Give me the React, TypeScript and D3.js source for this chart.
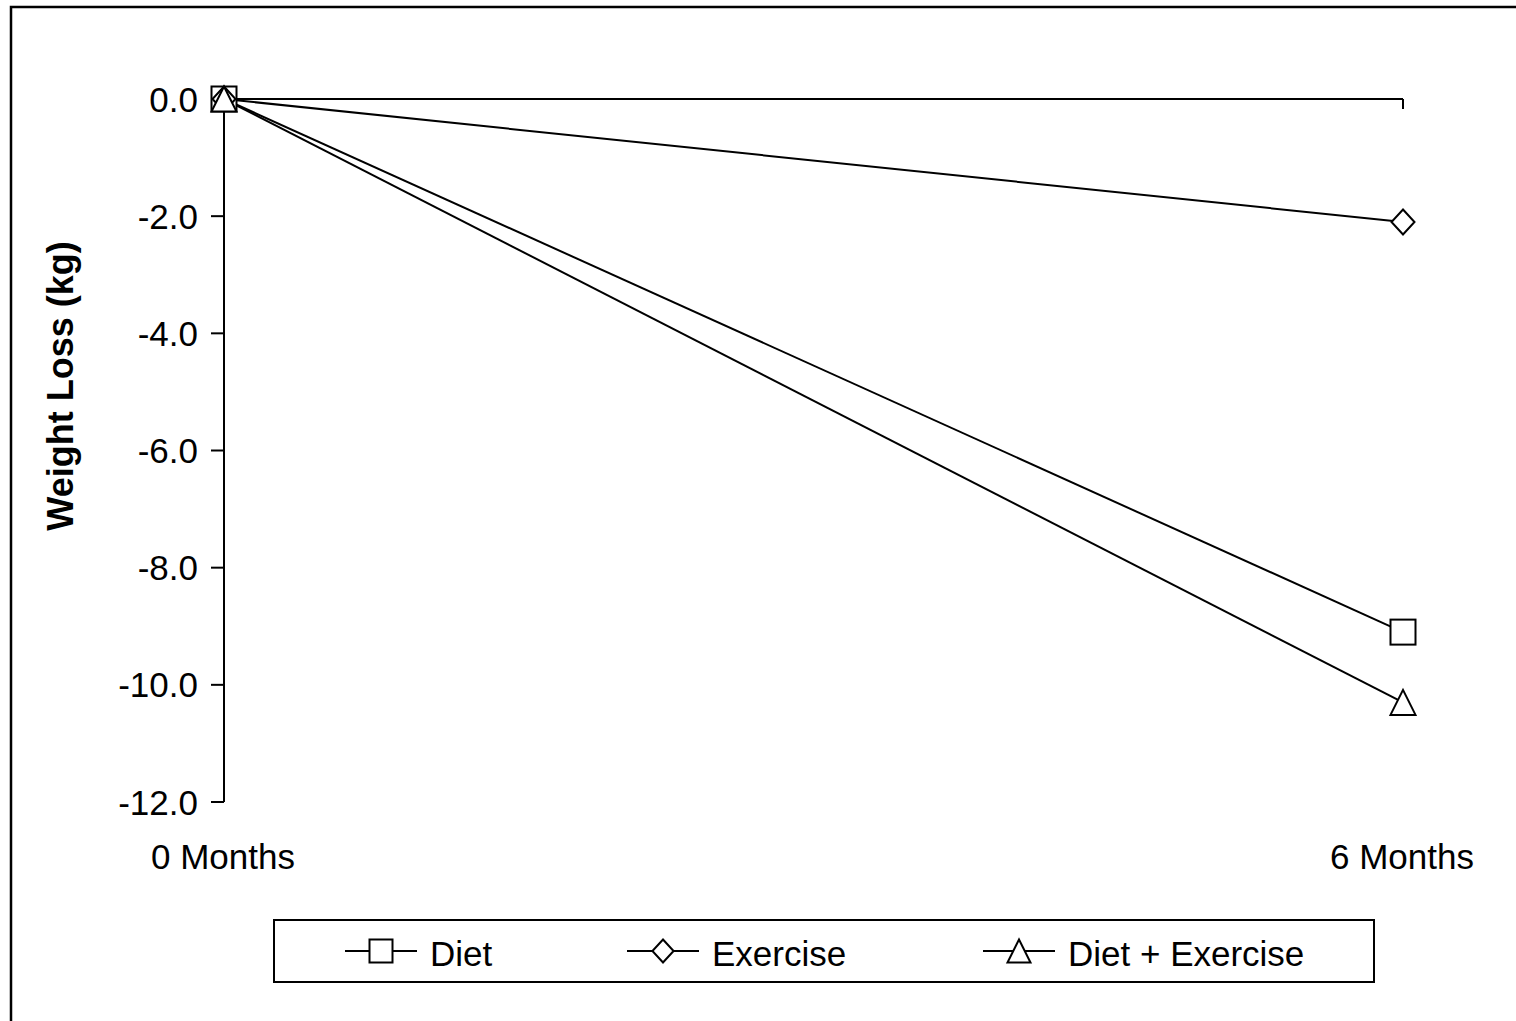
import React from "react";
import * as d3 from "d3";

const categories = ["0 Months", "6 Months"];
const seriesNames = ["Diet", "Exercise", "Diet + Exercise"];
const dietValues = [0, -9.1];
const exerciseValues = [0, -2.1];
const dietExerciseValues = [0, -10.3];
const yTicks = [0, -2, -4, -6, -8, -10, -12];
const markerTypes = ["square", "diamond", "triangle"];

const W = 1516;
const H = 1021;
const FONT = "'Liberation Sans', Arial, sans-serif";

function Marker({ type, x, y, s }: { type: string; x: number; y: number; s: number }) {
  const h = s / 2;
  if (type === "square") {
    return <rect x={x - h} y={y - h} width={s} height={s} fill="#fff" stroke="#000" strokeWidth={2} />;
  }
  if (type === "diamond") {
    const hw = h * 0.92;
    return (
      <path
        d={`M${x},${y - h} L${x + hw},${y} L${x},${y + h} L${x - hw},${y} Z`}
        fill="#fff"
        stroke="#000"
        strokeWidth={2}
      />
    );
  }
  return (
    <path
      d={`M${x},${y - h} L${x + h},${y + h} L${x - h},${y + h} Z`}
      fill="#fff"
      stroke="#000"
      strokeWidth={2}
    />
  );
}

export default function App() {
  const x = d3.scalePoint<string>().domain(categories).range([224, 1403]);
  const y = d3.scaleLinear().domain([-12, 0]).range([802, 99]);
  const allSeries = [dietValues, exerciseValues, dietExerciseValues];
  const line = d3
    .line<number>()
    .x((_, i) => x(categories[i]) as number)
    .y((d) => y(d));

  const legendStarts = [345, 627, 983];

  return (
    <svg
      width={W}
      height={H}
      style={{ position: "absolute", left: 0, top: 0, background: "#fff" }}
      fontFamily={FONT}
    >
      <rect x={0} y={0} width={W} height={H} fill="#fff" />
      {/* outer chart border */}
      <path d={`M11,${H} L11,7 L${W} 7`} fill="none" stroke="#000" strokeWidth={2.5} />

      {/* y axis */}
      <line x1={224} x2={224} y1={y(0)} y2={y(-12)} stroke="#000" strokeWidth={2} />
      {yTicks.map((t) => (
        <g key={t}>
          <line x1={211} x2={224} y1={y(t)} y2={y(t)} stroke="#000" strokeWidth={2} />
          <text
            x={198}
            y={y(t)}
            dy="0.36em"
            textAnchor="end"
            fontSize={35}
            fill="#000"
          >
            {t.toFixed(1)}
          </text>
        </g>
      ))}

      {/* x axis at zero */}
      <line x1={224} x2={x(categories[1]) as number} y1={y(0)} y2={y(0)} stroke="#000" strokeWidth={2} />
      {categories.map((c) => (
        <line key={c} x1={x(c)} x2={x(c)} y1={y(0)} y2={y(0) + 10} stroke="#000" strokeWidth={2} />
      ))}
      {categories.map((c) => (
        <text key={c} x={(x(c) as number) - 1} y={869} textAnchor="middle" fontSize={35} fill="#000">
          {c}
        </text>
      ))}

      {/* y axis title */}
      <text
        transform={`translate(73,386) rotate(-90)`}
        textAnchor="middle"
        fontSize={36}
        fontWeight="bold"
        fill="#000"
      >
        Weight Loss (kg)
      </text>

      {/* series lines */}
      {allSeries.map((vals, si) => (
        <path key={si} d={line(vals) || ""} fill="none" stroke="#000" strokeWidth={2} />
      ))}
      {/* markers */}
      {allSeries.map((vals, si) =>
        vals.map((v, i) => (
          <Marker key={`${si}-${i}`} type={markerTypes[si]} x={x(categories[i]) as number} y={y(v)} s={25} />
        ))
      )}

      {/* legend */}
      <rect x={274} y={920} width={1100} height={62} fill="#fff" stroke="#000" strokeWidth={2} />
      {seriesNames.map((n, i) => {
        const sx = legendStarts[i];
        return (
          <g key={n}>
            <line x1={sx} x2={sx + 72} y1={951} y2={951} stroke="#000" strokeWidth={2} />
            <Marker type={markerTypes[i]} x={sx + 36} y={951} s={23} />
            <text x={sx + 85} y={966} fontSize={35} fill="#000">
              {n}
            </text>
          </g>
        );
      })}
    </svg>
  );
}
